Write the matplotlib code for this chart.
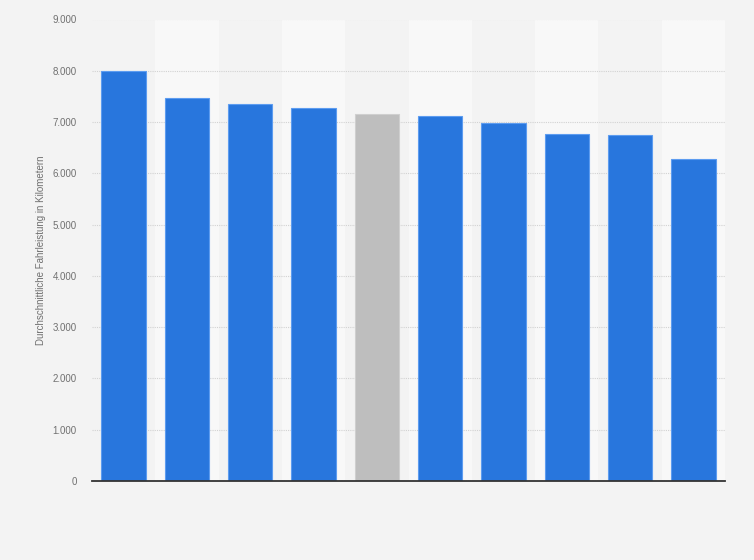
import matplotlib.pyplot as plt
from matplotlib.ticker import FuncFormatter

# Durchschnittliche Fahrleistung je Kategorie
positions = list(range(10))
values = [7990, 7470, 7350, 7275, 7160, 7120, 6990, 6770, 6750, 6280]
highlight = 4  # grauer Balken
y_ticks = [0, 1000, 2000, 3000, 4000, 5000, 6000, 7000, 8000, 9000]

bg = '#f3f3f3'
fig = plt.figure(figsize=(7.54, 5.6), dpi=100, facecolor=bg)
ax = fig.add_axes([92 / 754, 1 - 481 / 560, (725 - 92) / 754, (481 - 19.5) / 560])
ax.set_facecolor(bg)

# abwechselnd helle Spalten im Hintergrund
for i in positions:
    if i % 2 == 1:
        ax.axvspan(i - 0.5, i + 0.5, color='#f8f8f8', zorder=0, lw=0)

colors = ['#bebebe' if i == highlight else '#2876dd' for i in positions]
edges = ['#cfcfcf' if i == highlight else '#5d9cf0' for i in positions]
ax.bar(positions, values, width=0.7, color=colors, edgecolor=edges, linewidth=0.8, zorder=3)

ax.set_xlim(-0.5, 9.5)
ax.set_ylim(0, 9000)
ax.set_yticks(y_ticks)
ax.yaxis.set_major_formatter(FuncFormatter(lambda v, p: f'{int(v):,}'.replace(',', '.')))
ax.set_xticks([])
ax.tick_params(axis='y', length=0, pad=11, labelsize=7, labelcolor='#707070')
for lbl in ax.get_yticklabels():
    lbl.set_family('Liberation Sans')

ax.grid(axis='y', color='#d2d2d2', linestyle=(0, (1, 1)), linewidth=0.8, zorder=1)
for s in ['top', 'right', 'left']:
    ax.spines[s].set_visible(False)
ax.spines['bottom'].set_color('#333333')
ax.spines['bottom'].set_linewidth(1.3)
ax.spines['bottom'].set_zorder(4)

ax.set_ylabel('Durchschnittliche Fahrleistung in Kilometern', fontsize=7, color='#707070',
              family='Liberation Sans')
ax.yaxis.set_label_coords((46 - 92) / 633, 0.5)

fig.savefig('out.png', dpi=100, facecolor=bg)
